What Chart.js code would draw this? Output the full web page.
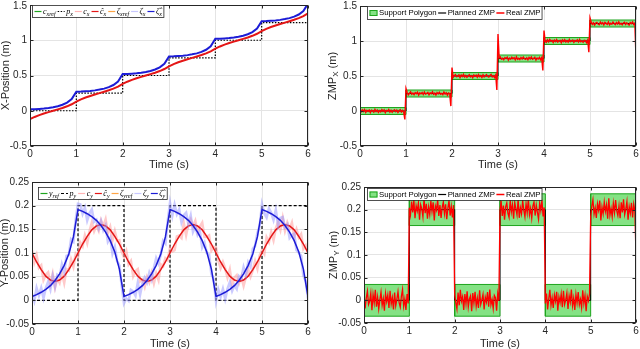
<!DOCTYPE html>
<html>
<head>
<meta charset="utf-8">
<script src="https://cdn.jsdelivr.net/npm/chart.js@4.4.0/dist/chart.umd.min.js"></script>
<style>
  html, body { margin: 0; padding: 0; background: #fff; }
  #wrap { position: relative; width: 640px; height: 349px; }
  canvas { position: absolute; }
  #posY, #zmpY { z-index: 2; }
</style>
</head>
<body>
<div id="wrap">
  <canvas id="posX" width="320" height="175" style="left:0;top:0"></canvas>
  <canvas id="zmpX" width="320" height="175" style="left:320px;top:0"></canvas>
  <canvas id="posY" width="320" height="174" style="left:0;top:175px"></canvas>
  <canvas id="zmpY" width="320" height="174" style="left:320px;top:175px"></canvas>
</div>
<script>
// ---- data ----
const timeTicks = [0, 1, 2, 3, 4, 5, 6];
const stepTimes = [0, 1, 2, 3, 4, 5, 6];
const xTicksY = [-0.5, 0, 0.5, 1, 1.5];
const yTicksY = [-0.05, 0, 0.05, 0.1, 0.15, 0.2, 0.25];

// top left: X position, samples every 0.1 s
const pX = [0, 0.25, 0.5, 0.75, 1, 1.25, 1.25];
const cHatX = [
  -0.12, -0.088, -0.062, -0.04, -0.02, 0.0, 0.02, 0.04, 0.063, 0.092,
  0.13, 0.162, 0.188, 0.21, 0.23, 0.25, 0.27, 0.29, 0.313, 0.342,
  0.38, 0.412, 0.438, 0.46, 0.48, 0.5, 0.52, 0.54, 0.563, 0.592,
  0.63, 0.662, 0.688, 0.71, 0.73, 0.75, 0.77, 0.79, 0.813, 0.842,
  0.88, 0.912, 0.938, 0.96, 0.98, 1.0, 1.02, 1.04, 1.063, 1.092,
  1.13, 1.162, 1.188, 1.21, 1.23, 1.25, 1.27, 1.29, 1.313, 1.342,
  1.38
];
const zetaHatX = [
  0.02, 0.022, 0.026, 0.031, 0.039, 0.05, 0.064, 0.085, 0.115, 0.165,
  0.27, 0.272, 0.276, 0.281, 0.289, 0.3, 0.314, 0.335, 0.365, 0.415,
  0.52, 0.522, 0.526, 0.531, 0.539, 0.55, 0.564, 0.585, 0.615, 0.665,
  0.77, 0.772, 0.776, 0.781, 0.789, 0.8, 0.814, 0.835, 0.865, 0.915,
  1.02, 1.022, 1.026, 1.031, 1.039, 1.05, 1.064, 1.085, 1.115, 1.165,
  1.27, 1.272, 1.276, 1.281, 1.289, 1.3, 1.314, 1.335, 1.365, 1.415,
  1.52
];

// top right: ZMP x, real ZMP in steps of 40 samples per second
const zmpXPlanned = [0, 0.25, 0.5, 0.75, 1, 1.25, 1.25];
const supXLo = [-0.05, 0.2, 0.45, 0.7, 0.95, 1.2];
const supXHi = [0.05, 0.3, 0.55, 0.8, 1.05, 1.3];
const zmpXReal = [
  [0.004, -0.012, 0.018, -0.006, 0.021, -0.019, 0.009, -0.003, 0.015, -0.022,
   0.011, 0.002, -0.016, 0.024, -0.008, 0.013, -0.02, 0.006, -0.011, 0.019,
   -0.004, 0.016, -0.024, 0.008, -0.001, 0.022, -0.014, 0.01, -0.018, 0.005,
   0.017, -0.009, 0.012, -0.021, 0.003, 0.02, -0.013, 0.007, -0.017, -0.12],
  [0.32, 0.265, 0.23, 0.253, 0.273, 0.239, 0.256, 0.233, 0.262, 0.248,
   0.269, 0.227, 0.258, 0.245, 0.264, 0.235, 0.271, 0.241, 0.251, 0.266,
   0.231, 0.26, 0.246, 0.274, 0.238, 0.255, 0.229, 0.263, 0.244, 0.268,
   0.24, 0.252, 0.234, 0.272, 0.243, 0.261, 0.226, 0.259, 0.249, 0.07],
  [0.62, 0.482, 0.505, 0.52, 0.491, 0.498, 0.516, 0.478, 0.513, 0.494,
   0.523, 0.486, 0.507, 0.481, 0.501, 0.518, 0.489, 0.504, 0.477, 0.515,
   0.497, 0.512, 0.483, 0.521, 0.492, 0.506, 0.48, 0.517, 0.488, 0.502,
   0.519, 0.495, 0.485, 0.509, 0.524, 0.487, 0.503, 0.479, 0.514, 0.30],
  [1.10, 0.758, 0.772, 0.74, 0.754, 0.732, 0.763, 0.749, 0.77, 0.726,
   0.756, 0.741, 0.767, 0.746, 0.761, 0.73, 0.775, 0.738, 0.753, 0.734,
   0.764, 0.743, 0.771, 0.748, 0.737, 0.759, 0.731, 0.766, 0.744, 0.773,
   0.739, 0.751, 0.768, 0.728, 0.757, 0.742, 0.765, 0.733, 0.762, 0.58],
  [1.15, 0.995, 0.981, 1.017, 0.989, 1.023, 0.998, 1.008, 0.979, 1.014,
   0.992, 1.02, 0.985, 1.003, 1.01, 0.976, 1.016, 0.994, 1.019, 0.987,
   1.005, 0.983, 1.022, 0.991, 1.001, 1.013, 0.98, 1.007, 0.996, 1.018,
   0.986, 1.024, 0.99, 1.002, 0.982, 1.011, 1.006, 0.977, 1.015, 0.84],
  [1.33, 1.269, 1.236, 1.259, 1.228, 1.256, 1.265, 1.242, 1.233, 1.271,
   1.245, 1.261, 1.23, 1.266, 1.252, 1.238, 1.273, 1.232, 1.254, 1.241,
   1.27, 1.249, 1.234, 1.263, 1.243, 1.274, 1.239, 1.253, 1.231, 1.258,
   1.267, 1.237, 1.26, 1.244, 1.229, 1.264, 1.248, 1.272, 1.235, 1.255,
   0.77]
];

// bottom left: Y position, smooth every 0.1 s, measured every 0.05 s
const pY = [0, 0.2, 0, 0.2, 0, 0.2, 0.2];
const cHatY = [
  0.1, 0.081, 0.065, 0.051, 0.043, 0.04, 0.043, 0.051, 0.065, 0.081,
  0.1, 0.119, 0.135, 0.149, 0.157, 0.16, 0.157, 0.149, 0.135, 0.119,
  0.1, 0.081, 0.065, 0.051, 0.043, 0.04, 0.043, 0.051, 0.065, 0.081,
  0.1, 0.119, 0.135, 0.149, 0.157, 0.16, 0.157, 0.149, 0.135, 0.119,
  0.1, 0.081, 0.065, 0.051, 0.043, 0.04, 0.043, 0.051, 0.065, 0.081,
  0.1, 0.119, 0.135, 0.149, 0.157, 0.16, 0.157, 0.149, 0.135, 0.119,
  0.1
];
const zetaHatY = [
  0.008, 0.012, 0.017, 0.023, 0.031, 0.042, 0.056, 0.074, 0.098, 0.134,
  0.192, 0.188, 0.183, 0.177, 0.169, 0.158, 0.144, 0.126, 0.102, 0.066,
  0.008, 0.012, 0.017, 0.023, 0.031, 0.042, 0.056, 0.074, 0.098, 0.134,
  0.192, 0.188, 0.183, 0.177, 0.169, 0.158, 0.144, 0.126, 0.102, 0.066,
  0.008, 0.012, 0.017, 0.023, 0.031, 0.042, 0.056, 0.074, 0.098, 0.134,
  0.192, 0.188, 0.183, 0.177, 0.169, 0.158, 0.144, 0.126, 0.102, 0.066,
  0.008
];
const cY = [
  0.106, 0.08, 0.095, 0.069, 0.074, 0.043, 0.054, 0.059, 0.035, 0.056,
  0.027, 0.046, 0.037, 0.058, 0.037, 0.066, 0.063, 0.086, 0.071, 0.098,
  0.091, 0.122, 0.114, 0.137, 0.121, 0.146, 0.164, 0.146, 0.158, 0.147,
  0.169, 0.156, 0.171, 0.142, 0.155, 0.127, 0.146, 0.126, 0.127, 0.103,
  0.091, 0.104, 0.076, 0.083, 0.051, 0.062, 0.066, 0.04, 0.044, 0.029,
  0.049, 0.038, 0.057, 0.036, 0.057, 0.043, 0.076, 0.072, 0.089, 0.085,
  0.111, 0.103, 0.106, 0.135, 0.137, 0.132, 0.163, 0.138, 0.162, 0.171,
  0.156, 0.168, 0.145, 0.156, 0.164, 0.134, 0.134, 0.137, 0.105, 0.113,
  0.111, 0.085, 0.068, 0.081, 0.067, 0.048, 0.065, 0.032, 0.048, 0.053,
  0.036, 0.05, 0.031, 0.05, 0.066, 0.05, 0.064, 0.083, 0.067, 0.095,
  0.106, 0.098, 0.133, 0.123, 0.144, 0.127, 0.152, 0.165, 0.149, 0.174,
  0.147, 0.164, 0.151, 0.164, 0.135, 0.15, 0.133, 0.14, 0.109, 0.116,
  0.1
];
const zetaY = [
  0.014, -0.001, 0.026, 0.01, 0.026, 0.005, 0.026, 0.039, 0.023, 0.051,
  0.029, 0.054, 0.05, 0.076, 0.06, 0.094, 0.096, 0.129, 0.124, 0.17,
  0.204, 0.203, 0.183, 0.196, 0.169, 0.184, 0.192, 0.166, 0.17, 0.152,
  0.167, 0.148, 0.158, 0.124, 0.132, 0.099, 0.113, 0.083, 0.074, 0.031,
  -0.006, 0.004, -0.001, 0.022, 0.019, 0.01, 0.037, 0.012, 0.036, 0.048,
  0.038, 0.058, 0.044, 0.068, 0.089, 0.078, 0.097, 0.126, 0.12, 0.167,
  0.206, 0.179, 0.202, 0.182, 0.192, 0.165, 0.18, 0.185, 0.161, 0.179,
  0.145, 0.156, 0.138, 0.146, 0.112, 0.122, 0.1, 0.097, 0.056, 0.044,
  -0.001, 0.023, 0.007, 0.024, 0.003, 0.024, 0.038, 0.02, 0.032, 0.024,
  0.051, 0.046, 0.07, 0.054, 0.08, 0.071, 0.109, 0.115, 0.142, 0.157,
  0.203, 0.184, 0.175, 0.194, 0.185, 0.17, 0.191, 0.158, 0.174, 0.176,
  0.154, 0.16, 0.132, 0.138, 0.141, 0.106, 0.101, 0.094, 0.052, 0.041,
  0.004
];

// bottom right: ZMP y
const zmpYPlanned = [0, 0.2, 0, 0.2, 0, 0.2, 0.2];
const supYLo = [-0.035, 0.165, -0.035, 0.165, -0.035, 0.165];
const supYHi = [0.035, 0.235, 0.035, 0.235, 0.035, 0.235];
const zmpYReal = [
  [0.01, -0.018, 0.005, 0.02, -0.009, -0.002, 0.016, -0.022, 0.013, -0.006,
   0.023, -0.014, 0.007, -0.019, 0.001, 0.018, -0.011, 0.004, -0.023, 0.015,
   -0.003, 0.012, -0.017, 0.021, -0.008, 0.006, -0.02, 0.017, -0.012, 0.002,
   0.019, -0.005, -0.015, 0.009, 0.024, -0.013, 0.003, -0.021, 0.014, -0.007],
  [0.204, 0.188, 0.218, 0.194, 0.221, 0.181, 0.209, 0.197, 0.215, 0.178,
   0.211, 0.202, 0.184, 0.224, 0.192, 0.213, 0.18, 0.206, 0.189, 0.219,
   0.196, 0.216, 0.176, 0.208, 0.199, 0.222, 0.186, 0.21, 0.182, 0.205,
   0.217, 0.191, 0.212, 0.179, 0.203, 0.22, 0.187, 0.207, 0.183, 0.21],
  [0.012, -0.005, -0.019, 0.017, -0.011, 0.023, -0.002, 0.008, -0.021, 0.014,
   -0.008, 0.02, -0.015, 0.003, 0.01, -0.024, 0.016, -0.006, 0.019, -0.013,
   0.005, -0.017, 0.022, -0.009, 0.001, 0.013, -0.02, 0.007, -0.004, 0.018,
   -0.014, 0.024, -0.01, 0.002, -0.018, 0.011, 0.006, -0.023, 0.015, -0.001],
  [0.197, 0.219, 0.186, 0.209, 0.178, 0.206, 0.215, 0.192, 0.183, 0.221,
   0.195, 0.211, 0.18, 0.216, 0.202, 0.188, 0.223, 0.182, 0.204, 0.191,
   0.22, 0.199, 0.184, 0.213, 0.193, 0.224, 0.189, 0.203, 0.181, 0.208,
   0.217, 0.187, 0.21, 0.194, 0.179, 0.214, 0.198, 0.222, 0.185, 0.205],
  [-0.007, 0.015, -0.02, 0.003, 0.023, -0.011, 0.006, -0.017, 0.012, -0.002,
   0.019, -0.023, 0.008, -0.005, 0.014, -0.015, 0.021, -0.009, 0.001, 0.016,
   -0.019, 0.01, -0.004, 0.024, -0.012, 0.005, -0.021, 0.013, -0.006, 0.018,
   -0.01, 0.002, -0.016, 0.022, -0.007, 0.011, -0.024, 0.009, -0.001, 0.014],
  [0.185, 0.208, 0.222, 0.19, 0.204, 0.182, 0.213, 0.199, 0.22, 0.176,
   0.206, 0.191, 0.217, 0.196, 0.211, 0.18, 0.225, 0.188, 0.203, 0.184,
   0.214, 0.193, 0.221, 0.198, 0.187, 0.209, 0.181, 0.216, 0.194, 0.223,
   0.189, 0.201, 0.218, 0.178, 0.207, 0.192, 0.215, 0.183, 0.212, 0.197,
   0.1]
];

const legendXPos = ['c|xref', 'p|x', 'c|x', 'ĉ|x', 'ζ|xref', 'ζ|x', 'ζ\u0302|x'];
const legendYPos = ['y|ref', 'p|y', 'c|y', 'ĉ|y', 'ζ|yref', 'ζ|y', 'ζ\u0302|y'];
const legendZmp = ['Support Polygon', 'Planned ZMP', 'Real ZMP'];

// ---- helpers ----
const INK = '#262626';
const SANS = '"Liberation Sans", Arial, sans-serif';
const SERIF = '"Liberation Serif", "DejaVu Serif", serif';
const RED = 'rgb(228,22,22)';
const BLUE = 'rgb(28,28,214)';
const GREEN = 'rgb(30,165,30)';

const sampleTimes = (n, dt) => Array.from({ length: n }, (_, i) => +(i * dt).toFixed(3));
const t10 = sampleTimes(61, 0.1);
const t20 = sampleTimes(121, 0.05);
const xy = (ts, vs) => vs.map((v, i) => ({ x: ts[i], y: v }));
const perStep = (chunks) => chunks.flatMap((c, k) => c.map((v, j) => ({ x: k + j / 40, y: v })));
const rect = (t0, t1, lo, hi) => [
  { x: t0, y: lo }, { x: t1, y: lo }, { x: t1, y: hi }, { x: t0, y: hi }, { x: t0, y: lo }
];
const plain = v => String(+Number(v).toFixed(3));

function line(data, color, width, extra) {
  return Object.assign({ data, borderColor: color, borderWidth: width, pointRadius: 0, fill: false }, extra || {});
}

function supportSets(lo, hi) {
  return lo.map((v, k) => ({
    data: rect(stepTimes[k], stepTimes[k + 1], v, hi[k]),
    borderColor: GREEN, borderWidth: 1, backgroundColor: 'rgb(132,226,132)',
    pointRadius: 0, fill: 'shape'
  }));
}

function drawLabel(ctx, text, x, y, size, math) {
  if (!math) {
    ctx.font = size + 'px ' + SANS;
    ctx.fillText(text, x, y);
    return ctx.measureText(text).width;
  }
  const [main, sub] = text.split('|');
  ctx.font = 'italic ' + size + 'px ' + SERIF;
  ctx.fillText(main, x, y);
  const w1 = ctx.measureText(main).width;
  ctx.font = 'italic ' + Math.round(size * 0.7) + 'px ' + SERIF;
  ctx.fillText(sub, x + w1, y + 2.5);
  return w1 + ctx.measureText(sub).width;
}

function drawLegend(ctx, L) {
  ctx.save();
  ctx.textAlign = 'left';
  ctx.textBaseline = 'middle';
  // measure widths first
  const widths = L.labels.map(t => {
    ctx.save();
    ctx.globalAlpha = 0;
    const w = drawLabel(ctx, t, 0, 0, L.size, L.math);
    ctx.restore();
    return w;
  });
  const sw = L.sw, gap = 1.5, sep = L.sep;
  const total = widths.reduce((a, w) => a + sw + gap + w + sep, 0) + 2;
  ctx.fillStyle = '#fff';
  ctx.fillRect(L.x, L.y, total, L.h);
  ctx.strokeStyle = INK;
  ctx.lineWidth = 0.8;
  ctx.strokeRect(L.x + 0.5, L.y + 0.5, total, L.h);
  let x = L.x + 2.5;
  const yc = L.y + L.h / 2 + 0.5;
  L.labels.forEach((t, i) => {
    const s = L.swatches[i];
    if (s.patch) {
      ctx.fillStyle = s.patch;
      ctx.fillRect(x, yc - 3, sw, 6);
      ctx.strokeStyle = s.color;
      ctx.lineWidth = 1;
      ctx.strokeRect(x + 0.5, yc - 2.5, sw - 1, 5);
    } else {
      ctx.strokeStyle = s.color;
      ctx.lineWidth = s.width || 1.2;
      ctx.setLineDash(s.dash || []);
      ctx.beginPath();
      ctx.moveTo(x, yc);
      ctx.lineTo(x + sw, yc);
      ctx.stroke();
      ctx.setLineDash([]);
    }
    x += sw + gap;
    ctx.fillStyle = '#000';
    x += drawLabel(ctx, t, x, yc, L.size, L.math) + sep;
  });
  ctx.restore();
}

function frame(deco) {
  return {
    id: 'frame',
    afterDraw(chart) {
      const { ctx, chartArea: a, scales } = chart;
      ctx.save();
      ctx.strokeStyle = INK;
      ctx.lineWidth = 1;
      const l = Math.round(a.left) + 0.5, r = Math.round(a.right) - 0.5;
      const t = Math.round(a.top) + 0.5, b = Math.round(a.bottom) - 0.5;
      ctx.strokeRect(l, t, r - l, b - t);
      ctx.beginPath();
      timeTicks.forEach(v => {
        const px = Math.round(scales.x.getPixelForValue(v)) + 0.5;
        ctx.moveTo(px, b); ctx.lineTo(px, b - 3);
        ctx.moveTo(px, t); ctx.lineTo(px, t + 3);
      });
      deco.yTicks.forEach(v => {
        const py = Math.round(scales.y.getPixelForValue(v)) + 0.5;
        ctx.moveTo(l, py); ctx.lineTo(l + 3, py);
        ctx.moveTo(r, py); ctx.lineTo(r - 3, py);
      });
      ctx.stroke();
      ctx.restore();

      drawLegend(ctx, deco.legend);

      // axis titles
      ctx.save();
      ctx.fillStyle = INK;
      ctx.textBaseline = 'middle';
      ctx.textAlign = 'center';
      ctx.font = '11px ' + SANS;
      ctx.fillText('Time (s)', (a.left + a.right) / 2, deco.xTitleY);

      const yt = deco.yTitle;
      ctx.translate(deco.yTitleX, (a.top + a.bottom) / 2);
      ctx.rotate(-Math.PI / 2);
      ctx.textAlign = 'left';
      ctx.font = '11px ' + SANS;
      const w1 = ctx.measureText(yt[0]).width;
      const w3 = ctx.measureText(yt[2]).width;
      ctx.font = '8px ' + SANS;
      const w2 = ctx.measureText(yt[1]).width;
      let x = -(w1 + w2 + w3) / 2;
      ctx.font = '11px ' + SANS;
      ctx.fillText(yt[0], x, 0);
      ctx.font = '8px ' + SANS;
      ctx.fillText(yt[1], x + w1, 3);
      ctx.font = '11px ' + SANS;
      ctx.fillText(yt[2], x + w1 + w2, 0);
      ctx.restore();

      // y tick labels, placed by the y scale
      ctx.save();
      ctx.fillStyle = INK;
      ctx.font = '10px ' + SANS;
      ctx.textAlign = 'right';
      ctx.textBaseline = 'middle';
      deco.yTicks.forEach(v => {
        const py = Math.max(scales.y.getPixelForValue(v), 6);
        ctx.fillText(plain(v), a.left - 3, py);
      });
      ctx.restore();
    }
  };
}

function panel(id, area, yRange, yTicks, datasets, deco) {
  const cv = document.getElementById(id);
  const W = cv.width, H = cv.height;
  const tickFont = { family: SANS, size: 10 };
  deco.yTicks = yTicks;
  return new Chart(cv, {
    type: 'line',
    data: { datasets },
    options: {
      responsive: false,
      animation: false,
      events: [],
      layout: { padding: { left: 0, top: area.top, right: W - area.right, bottom: 0 } },
      elements: { line: { tension: 0 }, point: { radius: 0 } },
      plugins: { legend: { display: false }, tooltip: { enabled: false } },
      scales: {
        x: {
          type: 'linear', min: 0, max: 6,
          ticks: { color: INK, font: tickFont, padding: 2, maxRotation: 0, callback: plain },
          afterBuildTicks(s) { s.ticks = timeTicks.map(v => ({ value: v })); },
          grid: { color: '#e4e4e4', drawTicks: false },
          border: { display: false },
          afterFit(s) { s.height = H - area.bottom; s.paddingLeft = 0; s.paddingRight = 0; }
        },
        y: {
          min: yRange[0], max: yRange[1],
          ticks: { display: false },
          afterBuildTicks(s) { s.ticks = yTicks.map(v => ({ value: v })); },
          grid: { color: '#e4e4e4', drawTicks: false },
          border: { display: false },
          afterFit(s) { s.width = area.left; s.paddingTop = 0; s.paddingBottom = 0; }
        }
      }
    },
    plugins: [frame(deco)]
  });
}

// ---- panels ----
const posSwatches = (dash) => [
  { color: GREEN }, { color: '#000', dash }, { color: 'rgb(255,180,180)' }, { color: RED },
  { color: 'rgb(255,165,70)' }, { color: 'rgb(200,200,255)' }, { color: BLUE }
];
const zmpSwatches = [
  { color: GREEN, patch: 'rgb(132,226,132)' }, { color: '#000' }, { color: 'rgb(255,0,0)', width: 1.5 }
];

panel('posX', { left: 30, right: 308, top: 5, bottom: 146 }, [-0.5, 1.5], xTicksY, [
  line(xy(t10, zetaHatX), BLUE, 2),
  line(xy(t10, cHatX), RED, 2),
  line(xy(stepTimes, pX), '#000', 1.2, { stepped: true, borderDash: [1.5, 1.5] })
], {
  legend: { x: 32, y: 5, h: 12, size: 8, math: true, sw: 7, sep: 2, labels: legendXPos, swatches: posSwatches([1.5, 1.5]) },
  xTitleY: 165, yTitleX: 6, yTitle: ['X-Position (m)', '', '']
});

panel('zmpX', { left: 40, right: 316, top: 6, bottom: 146 }, [-0.5, 1.5], xTicksY, [
  line(perStep(zmpXReal), 'rgb(255,0,0)', 1.4),
  line(xy(stepTimes, zmpXPlanned), '#000', 1, { stepped: true }),
  ...supportSets(supXLo, supXHi)
], {
  legend: { x: 47, y: 6, h: 13, size: 7.8, math: false, sw: 8, sep: 1.5, labels: legendZmp, swatches: zmpSwatches },
  xTitleY: 165, yTitleX: 13, yTitle: ['ZMP', 'X', ' (m)']
});

panel('posY', { left: 32, right: 308, top: 7, bottom: 149 }, [-0.05, 0.25], yTicksY, [
  line(xy(t10, zetaHatY), BLUE, 1.5),
  line(xy(t20, zetaY), 'rgba(150,150,255,0.5)', 2.6),
  line(xy(t10, cHatY), RED, 1.5),
  line(xy(t20, cY), 'rgba(255,150,150,0.5)', 2.6),
  line(xy(stepTimes, pY), '#000', 1.2, { stepped: true, borderDash: [3, 2] })
], {
  legend: { x: 38, y: 12, h: 12, size: 8, math: true, sw: 7, sep: 2, labels: legendYPos, swatches: posSwatches([3, 2]) },
  xTitleY: 169, yTitleX: 5, yTitle: ['Y-Position (m)', '', '']
});

panel('zmpY', { left: 44, right: 316, top: 12, bottom: 148 }, [-0.05, 0.25], yTicksY, [
  line(perStep(zmpYReal), 'rgb(255,0,0)', 1.3),
  line(xy(stepTimes, zmpYPlanned), '#000', 1, { stepped: true }),
  ...supportSets(supYLo, supYHi)
], {
  legend: { x: 47, y: 13, h: 12, size: 7.8, math: false, sw: 8, sep: 1.5, labels: legendZmp, swatches: zmpSwatches },
  xTitleY: 169, yTitleX: 14, yTitle: ['ZMP', 'Y', ' (m)']
});
</script>
</body>
</html>
